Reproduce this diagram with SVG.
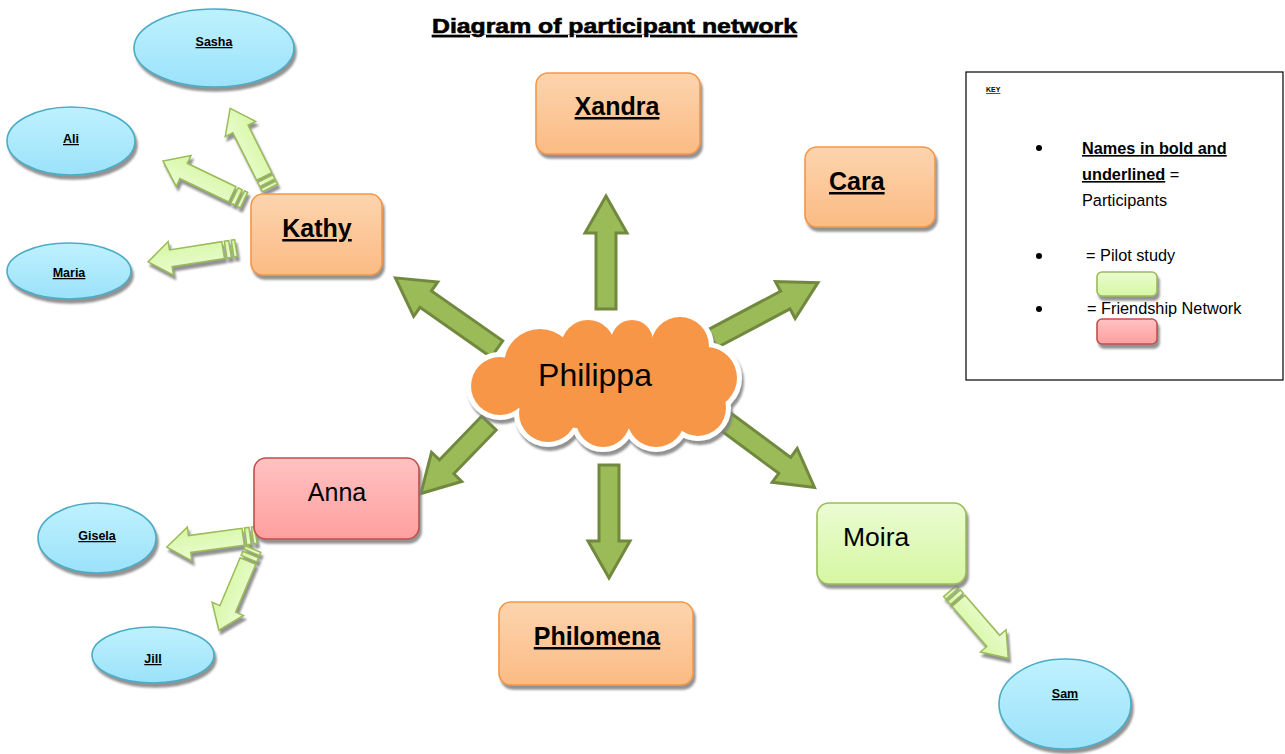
<svg xmlns="http://www.w3.org/2000/svg" xmlns:xlink="http://www.w3.org/1999/xlink" width="1285" height="754" viewBox="0 0 1285 754">
  <defs>
    <linearGradient id="gOrange" x1="0" y1="0" x2="0" y2="1">
      <stop offset="0" stop-color="#fdd4ae"/>
      <stop offset="1" stop-color="#fbbb84"/>
    </linearGradient>
    <linearGradient id="gPink" x1="0" y1="0" x2="0" y2="1">
      <stop offset="0" stop-color="#ffc2c1"/>
      <stop offset="1" stop-color="#ff9f9f"/>
    </linearGradient>
    <linearGradient id="gLime" x1="0" y1="0" x2="0" y2="1">
      <stop offset="0" stop-color="#eafcd2"/>
      <stop offset="1" stop-color="#d6f7a2"/>
    </linearGradient>
    <linearGradient id="gBlue" x1="0" y1="0" x2="0" y2="1">
      <stop offset="0" stop-color="#bff1fe"/>
      <stop offset="1" stop-color="#9be2fa"/>
    </linearGradient>
    <filter id="sh" x="-20%" y="-20%" width="150%" height="150%">
      <feGaussianBlur in="SourceAlpha" stdDeviation="0.8" result="b"/>
      <feOffset in="b" dx="2" dy="4" result="o"/>
      <feFlood flood-color="#7f7f7f" flood-opacity="0.85"/>
      <feComposite in2="o" operator="in" result="s"/>
      <feMerge><feMergeNode in="s"/><feMergeNode in="SourceGraphic"/></feMerge>
    </filter>
    <g id="cloudShape">
      <ellipse cx="605" cy="385" rx="100" ry="45"/>
      <circle cx="540" cy="365" r="36"/>
      <circle cx="588" cy="347" r="27"/>
      <circle cx="632" cy="341" r="21"/>
      <circle cx="680" cy="346" r="29"/>
      <circle cx="706" cy="378" r="31"/>
      <circle cx="698" cy="408" r="28"/>
      <circle cx="656" cy="418" r="29"/>
      <circle cx="603" cy="420" r="27"/>
      <circle cx="548" cy="413" r="29"/>
      <circle cx="500" cy="386" r="29"/>
    </g>
  </defs>
  <style>
    .box-o { fill: url(#gOrange); stroke: #f79646; stroke-width: 1.6; }
    .box-p { fill: url(#gPink); stroke: #c0504d; stroke-width: 1.6; }
    .box-g { fill: url(#gLime); stroke: #9bbb59; stroke-width: 1.6; }
    .ell { fill: url(#gBlue); stroke: #4bacc6; stroke-width: 1.6; }
    .big { fill: #9bbb59; stroke: #71893f; stroke-width: 3; stroke-linejoin: miter; }
    .thin { fill: url(#gLime); stroke: #9bbb59; stroke-width: 1.5; }
    .lbl { font-family: "Liberation Sans", Arial, sans-serif; fill: #000; }
    .part { font-weight: bold; font-size: 25px; text-decoration: underline; }
    .small { font-weight: bold; font-size: 12.5px; text-decoration: underline; }
    .key { font-size: 16.3px; }
  </style>

  <!-- title -->
  <text class="lbl" x="432" y="33" font-size="21" font-weight="bold" stroke="#000" stroke-width="0.6" text-decoration="underline" textLength="365" lengthAdjust="spacingAndGlyphs">Diagram of participant network</text>

  <!-- connectors -->
  <g id="connectors">
    <!-- main arrows out of the centre -->
    <path class="big" transform="translate(606,309) rotate(-90)" d="M0,-10 H76 V-21 L113,0 L76,21 V10 H0 Z"/>
    <path class="big" transform="translate(497,349) rotate(-145)" d="M0,-10 H87 V-21 L124,0 L87,21 V10 H0 Z"/>
    <path class="big" transform="translate(712,339) rotate(-28)" d="M0,-10 H83 V-21 L120,0 L83,21 V10 H0 Z"/>
    <path class="big" transform="translate(489,423) rotate(134)" d="M0,-10 H61 V-21 L98,0 L61,21 V10 H0 Z"/>
    <path class="big" transform="translate(609,465) rotate(90)" d="M0,-10 H76 V-21 L113,0 L76,21 V10 H0 Z"/>
    <path class="big" transform="translate(718,416) rotate(36.5)" d="M0,-10 H83 V-21 L120,0 L83,21 V10 H0 Z"/>

    <!-- striped arrows to the pilot-study contacts -->
    <g filter="url(#sh)"><g class="thin" transform="translate(270,188) rotate(-116.6)">
      <rect x="0" y="-8.5" width="3.5" height="17"/><rect x="6" y="-8.5" width="4.5" height="17"/>
      <path d="M13,-8.5 H66 V-17 L89,0 L66,17 V8.5 H13 Z"/></g></g>
    <g filter="url(#sh)"><g class="thin" transform="translate(244,200) rotate(-154.3)">
      <rect x="0" y="-8.5" width="3.5" height="17"/><rect x="6" y="-8.5" width="4.5" height="17"/>
      <path d="M13,-8.5 H67 V-17 L90,0 L67,17 V8.5 H13 Z"/></g></g>
    <g filter="url(#sh)"><g class="thin" transform="translate(236,248) rotate(171)">
      <rect x="0" y="-8.5" width="3.5" height="17"/><rect x="6" y="-8.5" width="4.5" height="17"/>
      <path d="M13,-8.5 H66 V-17 L89,0 L66,17 V8.5 H13 Z"/></g></g>
    <g filter="url(#sh)"><g class="thin" transform="translate(256,535) rotate(172.3)">
      <rect x="0" y="-8.5" width="3.5" height="17"/><rect x="6" y="-8.5" width="4.5" height="17"/>
      <path d="M13,-8.5 H67 V-17 L90,0 L67,17 V8.5 H13 Z"/></g></g>
    <g filter="url(#sh)"><g class="thin" transform="translate(253,549) rotate(112.8)">
      <rect x="0" y="-8.5" width="3.5" height="17"/><rect x="6" y="-8.5" width="4.5" height="17"/>
      <path d="M13,-8.5 H65 V-17 L88,0 L65,17 V8.5 H13 Z"/></g></g>
    <g filter="url(#sh)"><g class="thin" transform="translate(950,591) rotate(49.1)">
      <rect x="0" y="-8.5" width="3.5" height="17"/><rect x="6" y="-8.5" width="4.5" height="17"/>
      <path d="M13,-8.5 H66 V-17 L89,0 L66,17 V8.5 H13 Z"/></g></g>
  </g>

  <!-- central cloud -->
  <g id="philippa">
    <g filter="url(#sh)"><use xlink:href="#cloudShape" href="#cloudShape" fill="#ffffff" stroke="#ffffff" stroke-width="10"/></g>
    <use xlink:href="#cloudShape" href="#cloudShape" fill="#f79646"/>
    <text class="lbl" x="595" y="386" font-size="32" text-anchor="middle">Philippa</text>
  </g>

  <!-- participants -->
  <g id="xandra">
    <rect class="box-o" x="536" y="73" width="164" height="81" rx="12" filter="url(#sh)"/>
    <text class="lbl part" x="617" y="115" text-anchor="middle">Xandra</text>
  </g>
  <g id="cara">
    <rect class="box-o" x="805" y="147" width="130" height="80" rx="12" filter="url(#sh)"/>
    <text class="lbl part" x="829" y="190">Cara</text>
  </g>
  <g id="kathy">
    <rect class="box-o" x="251" y="194" width="131" height="81" rx="12" filter="url(#sh)"/>
    <text class="lbl part" x="317" y="237" text-anchor="middle">Kathy</text>
  </g>
  <g id="philomena">
    <rect class="box-o" x="499" y="602" width="194" height="83" rx="12" filter="url(#sh)"/>
    <text class="lbl part" x="597" y="645" text-anchor="middle">Philomena</text>
  </g>
  <g id="anna">
    <rect class="box-p" x="254" y="458" width="165" height="81" rx="12" filter="url(#sh)"/>
    <text class="lbl" x="337" y="501" font-size="25" text-anchor="middle">Anna</text>
  </g>
  <g id="moira">
    <rect class="box-g" x="817" y="503" width="149" height="81" rx="12" filter="url(#sh)"/>
    <text class="lbl" x="843" y="546" font-size="26.5">Moira</text>
  </g>

  <!-- contacts -->
  <g id="sasha">
    <ellipse class="ell" cx="214" cy="48" rx="80" ry="39" filter="url(#sh)"/>
    <text class="lbl small" x="214" y="46" text-anchor="middle">Sasha</text>
  </g>
  <g id="ali">
    <ellipse class="ell" cx="71" cy="141" rx="64" ry="34" filter="url(#sh)"/>
    <text class="lbl small" x="71" y="143" text-anchor="middle">Ali</text>
  </g>
  <g id="maria">
    <ellipse class="ell" cx="69" cy="271" rx="62" ry="28" filter="url(#sh)"/>
    <text class="lbl small" x="69" y="277" text-anchor="middle">Maria</text>
  </g>
  <g id="gisela">
    <ellipse class="ell" cx="97" cy="538" rx="59" ry="35" filter="url(#sh)"/>
    <text class="lbl small" x="97" y="540" text-anchor="middle">Gisela</text>
  </g>
  <g id="jill">
    <ellipse class="ell" cx="153" cy="655" rx="61" ry="28" filter="url(#sh)"/>
    <text class="lbl small" x="153" y="663" text-anchor="middle">Jill</text>
  </g>
  <g id="sam">
    <ellipse class="ell" cx="1065" cy="704" rx="66" ry="45" filter="url(#sh)"/>
    <text class="lbl small" x="1065" y="698" text-anchor="middle">Sam</text>
  </g>

  <!-- key -->
  <g id="key">
    <rect x="966" y="72" width="317" height="308" fill="#ffffff" stroke="#000000" stroke-width="1.2"/>
    <text class="lbl" x="986" y="92" font-size="7" font-weight="bold" text-decoration="underline">KEY</text>
    <circle cx="1039" cy="148" r="3"/>
    <circle cx="1039" cy="256" r="3"/>
    <circle cx="1039" cy="309" r="3"/>
    <text class="lbl key" x="1082" y="154" font-weight="bold" text-decoration="underline">Names in bold and</text>
    <text class="lbl key" x="1082" y="180"><tspan font-weight="bold" text-decoration="underline">underlined</tspan> =</text>
    <text class="lbl key" x="1082" y="206">Participants</text>
    <text class="lbl key" x="1086" y="261">= Pilot study</text>
    <rect class="box-g" x="1097" y="272" width="60" height="24" rx="5" filter="url(#sh)"/>
    <text class="lbl key" x="1087" y="314">= Friendship Network</text>
    <rect class="box-p" x="1097" y="319" width="60" height="25" rx="5" filter="url(#sh)"/>
  </g>
</svg>
